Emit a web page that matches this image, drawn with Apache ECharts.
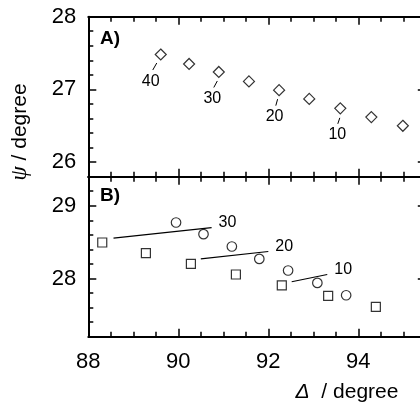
<!DOCTYPE html>
<html>
<head>
<meta charset="utf-8">
<script src="https://cdn.jsdelivr.net/npm/echarts@6/dist/echarts.min.js"></script>
<style>
  html, body { margin: 0; padding: 0; background: #fff; overflow: hidden; width: 420px; height: 402px; }
  #chart { width: 440px; height: 402px; }
</style>
</head>
<body>
<div id="chart"></div>
<script>
// Panel A: psi versus Delta, one point per step, some tagged
const psiDelta  = [89.61, 90.24, 90.90, 91.57, 92.24, 92.91, 93.60, 94.29, 94.99];
const psiValues = [27.48, 27.35, 27.24, 27.11, 26.99, 26.87, 26.74, 26.62, 26.50];
const psiTags   = ['40', '', '30', '', '20', '', '10', '', ''];

// Panel B: two data sets plus three short fitted segments
const squareDelta  = [88.31, 89.28, 90.28, 91.28, 92.30, 93.33, 94.39];
const squareValues = [28.495, 28.35, 28.20, 28.055, 27.905, 27.76, 27.61];
const circleDelta  = [89.95, 90.56, 91.19, 91.80, 92.44, 93.09, 93.73];
const circleValues = [28.77, 28.61, 28.44, 28.27, 28.11, 27.94, 27.77];

const fitTags   = ['30', '20', '10'];
const fitDeltaStart = [88.56, 90.50, 92.52];
const fitPsiStart   = [28.555, 28.27, 27.955];
const fitDeltaEnd   = [90.74, 92.00, 93.31];
const fitPsiEnd     = [28.70, 28.372, 28.055];

// Axis ranges and labelled ticks
const deltaRange = [88, 95.5];
const deltaTicks = [88, 90, 92, 94];
const psiRangeA = [25.8, 28];
const psiTicksA = [26, 27, 28];
const psiRangeB = [27.2, 29.4];
const psiTicksB = [28, 29];

// Styling for the tag leader lines in panel A (pixel offsets from the point)
const tagLayout = {
  '40': { from: [-4, 8.5], to: [-8, 15.5], text: [-10, 27] },
  '30': { from: [-1.5, 9], to: [-5, 15.5], text: [-6.5, 26.5] },
  '20': { from: [-1.5, 9], to: [-3.3, 15.5], text: [-4.5, 26.5] },
  '10': { from: [-0.5, 9.5], to: [-2.5, 15.5], text: [-3, 26.5] }
};

const FONT = '"Liberation Sans", Arial, Helvetica, sans-serif';
const INK = '#000';

function steps(lo, hi, step) {
  const out = [];
  const n = Math.round((hi - lo) / step);
  for (let i = 0; i <= n; i++) out.push(+(lo + i * step).toFixed(6));
  return out;
}

function makeAxes(kind, gridIndex, position, range, majors, minorStep, showLabels) {
  const major = {
    type: 'value', gridIndex, position, min: range[0], max: range[1],
    axisLine: { show: true, onZero: false, lineStyle: { color: INK, width: 2 } },
    axisTick: { show: true, inside: true, length: 8, lineStyle: { color: INK, width: 1.5 }, customValues: majors },
    axisLabel: showLabels ? {
      show: true, customValues: majors, color: INK, fontFamily: FONT, fontSize: 22,
      margin: kind === 'x' ? 14 : 12
    } : { show: false },
    splitLine: { show: false }
  };
  const minor = {
    type: 'value', gridIndex, position, min: range[0], max: range[1],
    axisLine: { show: false },
    axisTick: { show: true, inside: true, length: 5, lineStyle: { color: INK, width: 1.5 },
                customValues: steps(range[0], range[1], minorStep) },
    axisLabel: { show: false },
    splitLine: { show: false }
  };
  return [major, minor];
}

const xAxes = [
  ...makeAxes('x', 0, 'bottom', deltaRange, deltaTicks, 0.5, false),
  ...makeAxes('x', 0, 'top', deltaRange, deltaTicks, 0.5, false),
  ...makeAxes('x', 1, 'bottom', deltaRange, deltaTicks, 0.5, true),
  ...makeAxes('x', 1, 'top', deltaRange, deltaTicks, 0.5, false)
];
const yAxes = [
  ...makeAxes('y', 0, 'left', psiRangeA, psiTicksA, 0.2, true),
  ...makeAxes('y', 0, 'right', psiRangeA, psiTicksA, 0.2, false),
  ...makeAxes('y', 1, 'left', psiRangeB, psiTicksB, 0.2, true),
  ...makeAxes('y', 1, 'right', psiRangeB, psiTicksB, 0.2, false)
];

const zip = (xs, ys) => xs.map((x, i) => [x, ys[i]]);

const openMarker = { color: '#fff', borderColor: INK, borderWidth: 1.2 };

const series = [
  {
    type: 'scatter', xAxisIndex: 0, yAxisIndex: 0,
    symbol: 'diamond', symbolSize: [11, 11],
    itemStyle: openMarker, data: zip(psiDelta, psiValues), z: 3
  },
  {
    type: 'custom', xAxisIndex: 0, yAxisIndex: 0, z: 4,
    data: psiDelta.map((x, i) => [x, psiValues[i], i]).filter(d => psiTags[d[2]] !== ''),
    renderItem: function (params, api) {
      const p = api.coord([api.value(0), api.value(1)]);
      const tag = psiTags[api.value(2)];
      const lay = tagLayout[tag];
      return {
        type: 'group',
        children: [
          { type: 'line', shape: { x1: p[0] + lay.from[0], y1: p[1] + lay.from[1], x2: p[0] + lay.to[0], y2: p[1] + lay.to[1] },
            style: { stroke: INK, lineWidth: 1 } },
          { type: 'text', x: p[0] + lay.text[0], y: p[1] + lay.text[1],
            style: { text: tag, fill: INK, font: '16px ' + FONT, align: 'center', verticalAlign: 'middle' } }
        ]
      };
    }
  },
  {
    type: 'scatter', xAxisIndex: 4, yAxisIndex: 4,
    symbol: 'rect', symbolSize: 9,
    itemStyle: openMarker, data: zip(squareDelta, squareValues), z: 3
  },
  {
    type: 'scatter', xAxisIndex: 4, yAxisIndex: 4,
    symbol: 'circle', symbolSize: 9.5,
    itemStyle: openMarker, data: zip(circleDelta, circleValues), z: 3
  },
  ...fitTags.map((tag, i) => ({
    type: 'line', xAxisIndex: 4, yAxisIndex: 4, z: 2,
    symbol: 'none', silent: true,
    lineStyle: { color: INK, width: 1.1 },
    data: [[fitDeltaStart[i], fitPsiStart[i]], [fitDeltaEnd[i], fitPsiEnd[i]]],
    endLabel: { show: true, formatter: tag, color: INK, fontFamily: FONT, fontSize: 16, distance: 7, offset: [0, -5] }
  }))
];

const chart = echarts.init(document.getElementById('chart'), null, { renderer: 'canvas' });
chart.setOption({
  backgroundColor: '#fff',
  animation: false,
  grid: [
    { left: 88.3, top: 16.7, width: 337.5, height: 160 },
    { left: 88.3, top: 176.7, width: 337.5, height: 160 }
  ],
  xAxis: xAxes,
  yAxis: yAxes,
  series,
  graphic: [
    { type: 'text', left: 100, top: 29, style: { text: 'A)', fill: INK, font: 'bold 19px ' + FONT } },
    { type: 'text', left: 100, top: 186, style: { text: 'B)', fill: INK, font: 'bold 19px ' + FONT } },
    {
      type: 'text', x: 20, y: 132, rotation: Math.PI / 2,
      style: {
        text: '{s|ψ} / degree', fill: INK, font: '21px ' + FONT, align: 'center', verticalAlign: 'middle',
        rich: { s: { fontFamily: '"Liberation Serif", "DejaVu Serif", serif', fontStyle: 'italic', fontSize: 23 } }
      }
    },
    {
      type: 'text', x: 347, y: 392,
      style: {
        text: '{d|Δ}  / degree', fill: INK, font: '21px ' + FONT, align: 'center', verticalAlign: 'middle',
        rich: { d: { fontFamily: FONT, fontStyle: 'italic', fontSize: 21 } }
      }
    }
  ]
});
</script>
</body>
</html>
